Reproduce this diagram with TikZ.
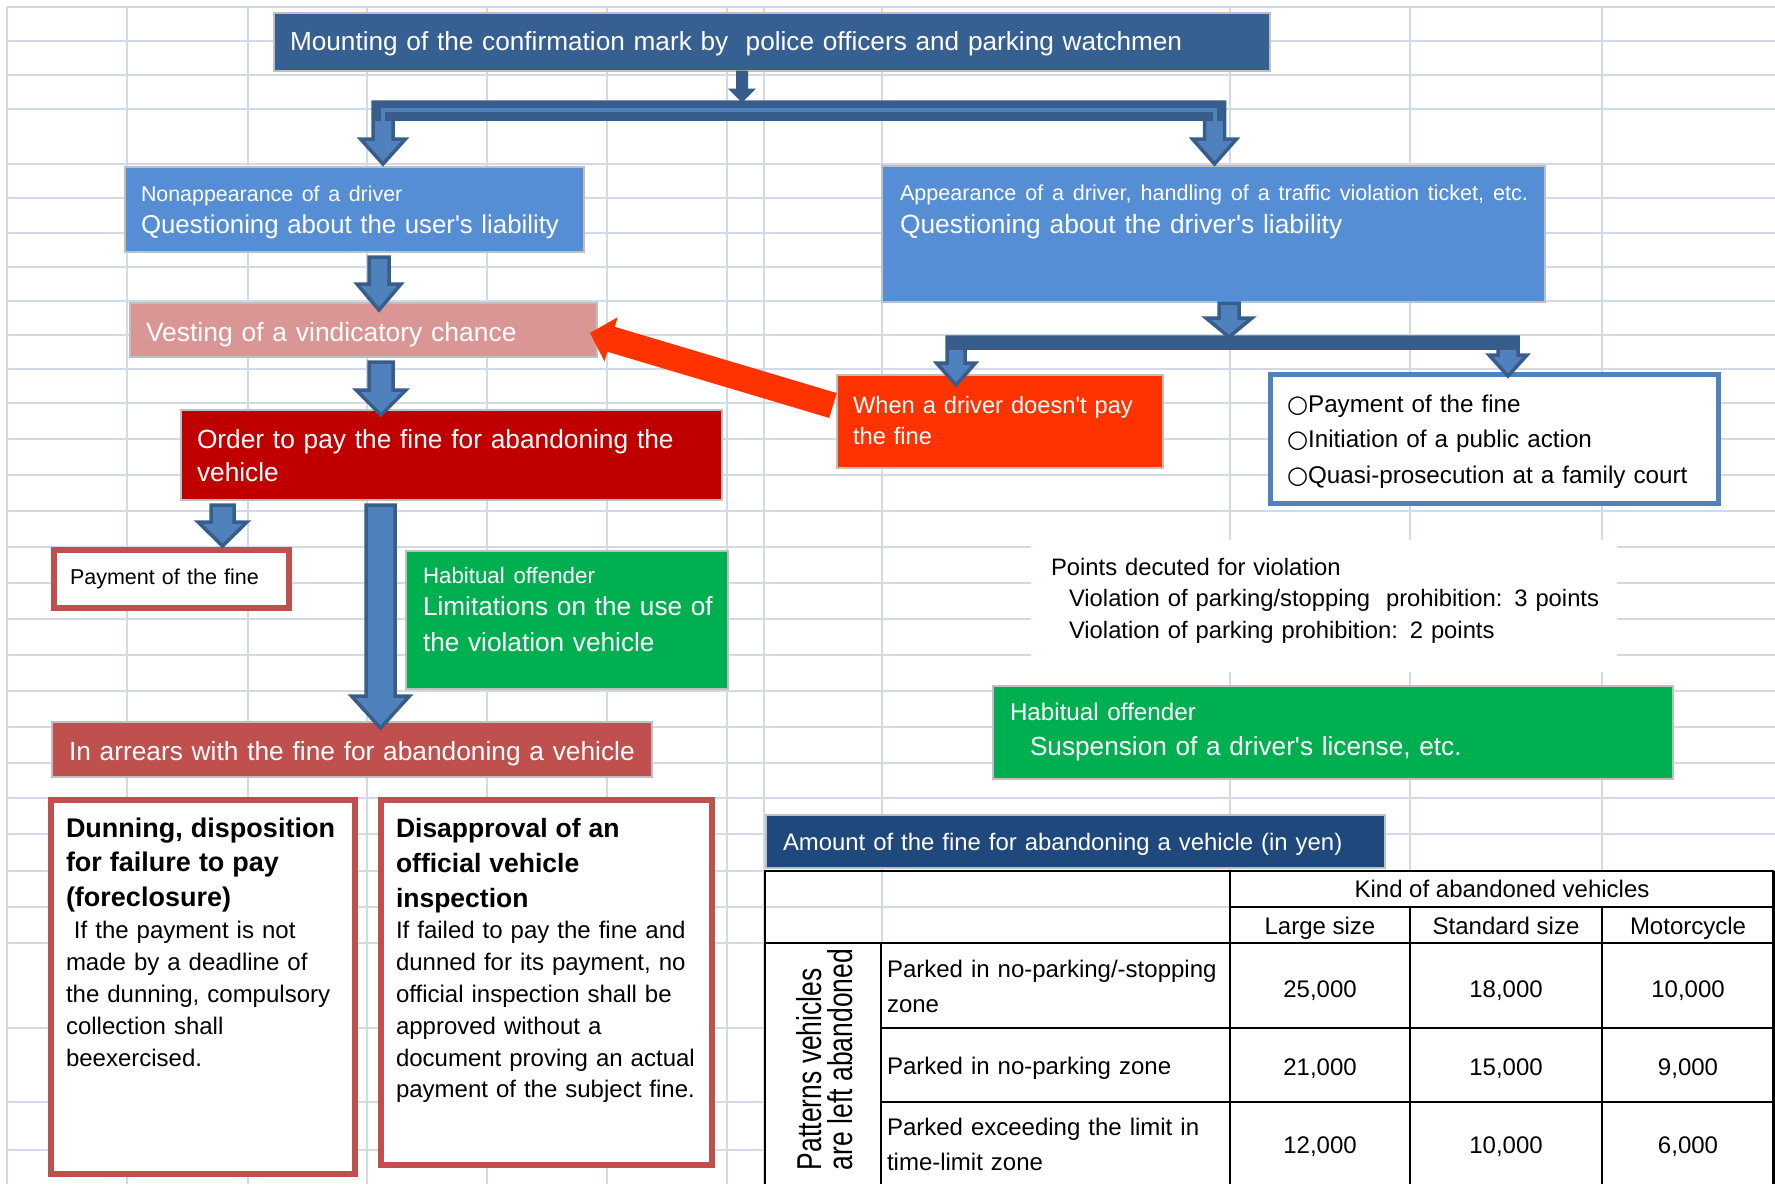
\documentclass[tikz,border=0pt]{standalone}
\usepackage{fontspec}
\setmainfont{Liberation Sans}
\newfontfamily\symfont{DejaVu Sans}
\usetikzlibrary{arrows.meta}
\usetikzlibrary{positioning}
\usetikzlibrary{calc}

\definecolor{gridline}{RGB}{210,218,232}
\definecolor{titleblue}{RGB}{55,96,146}
\definecolor{boxblue}{RGB}{85,142,213}
\definecolor{vestpink}{RGB}{217,150,148}
\definecolor{orderred}{RGB}{192,0,0}
\definecolor{alertred}{RGB}{255,51,0}
\definecolor{offgreen}{RGB}{0,176,80}
\definecolor{brickred}{RGB}{192,80,77}
\definecolor{navy}{RGB}{31,73,125}
\definecolor{arrowfill}{RGB}{79,129,189}
\definecolor{arrowedge}{RGB}{56,93,138}
\definecolor{edgegray}{RGB}{191,191,191}

\newcommand{\setfs}[2]{\fontsize{#1}{#2}\selectfont}
\newcommand{\apos}{\textquotesingle}
\newcommand{\blockdown}[6]{%
  \path[blockarrow] let \p1=(#1.south), \p2=([#3]#2.north) in
    (\x2-#4,\y1-5pt) -- (\x2+#4,\y1-5pt) -- (\x2+#4,\y2+#6) -- (\x2+#5,\y2+#6)
    -- (\x2,\y2) -- (\x2-#5,\y2+#6) -- (\x2-#4,\y2+#6) -- cycle;}

\begin{document}
\begin{tikzpicture}[x=1pt,y=-1pt]
\tikzset{
  gridl/.style={draw=gridline, line width=2pt},
  panel/.style={anchor=north west, inner ysep=0pt, outer sep=0pt, align=left, draw=edgegray, line width=2.5pt, text=white,
    execute at begin node={\rightskip=-100pt plus 1fil}},
  boxdims/.style n args={4}{text width=#1, inner xsep=#2, text height=#3, text depth=#4},
  redframe/.style={panel, fill=white, text=black, draw=brickred, line width=6pt},
  blockarrow/.style={fill=arrowfill, draw=arrowedge, line width=3.5pt},
  blockdark/.style={fill=arrowedge, draw=arrowedge, line width=1pt},
  tabl/.style={draw=black, line width=2.5pt},
  tabtext/.style={inner sep=0pt, outer sep=0pt, font=\setfs{24}{35}}
}
\useasboundingbox (0,0) rectangle (1775,1184);

\foreach \gx in {7,127,248,367,487,607,727,764,882,1230,1410,1602}
  \draw[gridl] (\gx,7) -- (\gx,1184);
\foreach \gy in {7,41,75,109,164,198,233,267,301,335,369,403,439,475,511,547,583,619,655,691,727,763,798,834,871,907,943,1028,1102,1150}
  \draw[gridl] (7,\gy) -- (1775,\gy);

\node[panel, fill=titleblue, boxdims={964pt}{16pt}{37pt}{21pt}, font=\setfs{26.2}{32}] (mount) at (274,13)
  {Mounting of the confirmation mark by\ \ police officers and parking watchmen};
\node[panel, fill=boxblue, boxdims={427pt}{16pt}{34pt}{51pt}, font=\setfs{25.8}{32}] (user) at (125,167)
  {{\setfs{21.4}{32}Nonappearance of a driver}\\Questioning about the user\apos s liability};
\node[panel, fill=boxblue, boxdims={627pt}{18pt}{34pt}{102pt}, font=\setfs{26.4}{33}] (driver) at (882,166)
  {{\setfs{21.6}{33}Appearance of a driver, handling of a traffic violation ticket, etc.}\\Questioning about the driver\apos s liability};
\node[panel, fill=vestpink, boxdims={435pt}{16pt}{38pt}{16pt}, font=\setfs{26.45}{32}] (vesting) at (130,303)
  {Vesting of a vindicatory chance};
\node[panel, fill=orderred, boxdims={509pt}{16pt}{38pt}{52pt}, font=\setfs{26.3}{33}] (order) at (181,410)
  {Order to pay the fine for abandoning the\\vehicle};
\node[redframe, boxdims={203pt}{16pt}{34pt}{24pt}, font=\setfs{21.5}{32}] (payment) at (54,550)
  {Payment of the fine};
\node[panel, fill=offgreen, boxdims={288pt}{17pt}{32pt}{106pt}, font=\setfs{26.2}{32}] (limit) at (406,551)
  {{\setfs{22.3}{32}Habitual offender}\\Limitations on the use of\\[4pt]the violation vehicle};
\node[panel, fill=brickred, boxdims={566pt}{17pt}{38pt}{17pt}, font=\setfs{26.3}{32}] (arrears) at (52,722)
  {In arrears with the fine for abandoning a vehicle};
\node[redframe, boxdims={274pt}{15pt}{37pt}{337pt}, font=\setfs{24}{32}] (dunning) at (51,800)
  {{\bfseries\setfs{27}{34.5}Dunning, disposition\\for failure to pay\\(foreclosure)\par}\ If the payment is not\\made by a deadline of\\the dunning, compulsory\\collection shall\\beexercised.};
\node[redframe, boxdims={301pt}{15pt}{37pt}{328pt}, font=\setfs{24}{31.8}] (disapproval) at (381,800)
  {{\bfseries\setfs{26.5}{35}Disapproval of an\\official vehicle\\inspection\par}If failed to pay the fine and\\dunned for its payment, no\\official inspection shall be\\approved without a\\document proving an actual\\payment of the subject fine.};
\node[panel, fill=alertred, boxdims={294pt}{16pt}{38pt}{55pt}, font=\setfs{23.7}{31}] (when) at (837,375)
  {When a driver doesn\apos t pay\\the fine};
\node[redframe, draw=arrowfill, line width=5pt, boxdims={415pt}{16.5pt}{37.5pt}{91.5pt}, font=\setfs{24.2}{35.5}] (list) at (1270.5,374.5)
  {{\symfont ○}Payment of the fine\\{\symfont ○}Initiation of a public action\\{\symfont ○}Quasi-prosecution at a family court};
\node[panel, fill=white, draw=none, text=black, boxdims={546pt}{20pt}{35pt}{97pt}, font=\setfs{23.8}{31.5}] (points) at (1031,540)
  {Points decuted for violation\\\hspace*{18pt}Violation of parking/stopping\ \ prohibition: 3 points\\\hspace*{18pt}Violation of parking prohibition: 2 points};
\node[panel, fill=offgreen, boxdims={646pt}{17pt}{34pt}{59pt}, font=\setfs{26.2}{35}] (suspend) at (993,686)
  {{\setfs{24.2}{35}Habitual offender}\\\hspace*{20pt}Suspension of a driver\apos s license, etc.};
\node[panel, fill=navy, boxdims={585pt}{17pt}{35pt}{18pt}, font=\setfs{23.9}{32}] (finetitle) at (766,815)
  {Amount of the fine for abandoning a vehicle (in yen)};

\fill[white] (1230,871) rectangle (1775,943);
\fill[white] (764,943) rectangle (1775,1184);
\draw[tabl] (764,871) -- (1773.5,871) (1230,907) -- (1773.5,907) (764,943) -- (1773.5,943)
  (881,1028) -- (1773.5,1028) (881,1102) -- (1773.5,1102);
\draw[tabl] (765,871) -- (765,1184) (881,943) -- (881,1184) (1230,871) -- (1230,1184)
  (1410,907) -- (1410,1184) (1602,907) -- (1602,1184) (1773.5,871) -- (1773.5,1184);

\node[tabtext, anchor=base] (kind) at (1502,897) {Kind of abandoned vehicles};
\node[tabtext, anchor=base] (large) at (1320,934) {Large size};
\node[tabtext, anchor=base] (standard) at (1506,934) {Standard size};
\node[tabtext, anchor=base] (moto) at (1688,934) {Motorcycle};
\node[tabtext, anchor=base west, text width=340pt, align=left] (zone1) at (887,977) {Parked in no-parking/-stopping\\zone};
\node[tabtext, anchor=base west, text width=340pt, align=left] (zone2) at (887,1074) {Parked in no-parking zone};
\node[tabtext, anchor=base west, text width=340pt, align=left] (zone3) at (887,1135) {Parked exceeding the limit in\\time-limit zone};
\node[tabtext, anchor=base] (fee11) at (1320,997) {25,000};
\node[tabtext, anchor=base] (fee12) at (1506,997) {18,000};
\node[tabtext, anchor=base] (fee13) at (1688,997) {10,000};
\node[tabtext, anchor=base] (fee21) at (1320,1075) {21,000};
\node[tabtext, anchor=base] (fee22) at (1506,1075) {15,000};
\node[tabtext, anchor=base] (fee23) at (1688,1075) {9,000};
\node[tabtext, anchor=base] (fee31) at (1320,1153) {12,000};
\node[tabtext, anchor=base] (fee32) at (1506,1153) {10,000};
\node[tabtext, anchor=base] (fee33) at (1688,1153) {6,000};
\node[rotate=90, anchor=base west, inner sep=0pt, outer sep=0pt] (pattern) at (821,1170)
  {\scalebox{1}[1.3]{\parbox[t]{240pt}{\setfs{26.5}{24.6}Patterns vehicles\\are left abandoned}}};

\path[blockdark] let \p1=([xshift=-30pt]mount.south) in
  (\x1-5.5pt,\y1) -- (\x1+5.5pt,\y1) -- (\x1+5.5pt,\y1-18pt) -- (\x1+13pt,\y1-18pt)
  -- (\x1,\y1-31pt) -- (\x1-13pt,\y1-18pt) -- (\x1-5.5pt,\y1-18pt) -- cycle;
\path[blockarrow] let \p1=(mount.south), \p2=([xshift=28.5pt,yshift=3pt]user.north), \p3=([xshift=1pt,yshift=2pt]driver.north) in
  (\x2-10pt,\y1-31pt) -- (\x3+10pt,\y1-31pt) -- (\x3+10pt,\y3+25pt) -- (\x3+22pt,\y3+25pt) -- (\x3,\y3)
  -- (\x3-22pt,\y3+25pt) -- (\x3-10pt,\y3+25pt) -- (\x3-10pt,\y1-48pt) -- (\x2+10pt,\y1-48pt)
  -- (\x2+10pt,\y2+25pt) -- (\x2+22.5pt,\y2+25pt) -- (\x2,\y2) -- (\x2-22.5pt,\y2+25pt) -- (\x2-10pt,\y2+25pt) -- cycle;
\path[fill=arrowedge] let \p1=(mount.south), \p2=([xshift=28.5pt]user.north), \p3=([xshift=1pt]driver.north) in
  (\x2-11.5pt,\y1-29.5pt) rectangle (\x3+11.5pt,\y1-49.5pt);
\draw[arrowfill, line width=4pt] let \p1=(mount.south), \p2=([xshift=28.5pt,yshift=3pt]user.north), \p3=([xshift=1pt,yshift=2pt]driver.north) in
  (\x2,\y2+27pt) -- (\x2,\y1-39pt) -- (\x3,\y1-39pt) -- (\x3,\y3+27pt);
\blockdown{user}{vesting}{xshift=15.5pt,yshift=-7pt}{10pt}{22pt}{26pt}
\blockdown{vesting}{order}{xshift=-70.5pt,yshift=-5pt}{12pt}{25pt}{25pt}
\blockdown{order}{payment}{xshift=51pt,yshift=4pt}{11.5pt}{24.5pt}{24pt}
\blockdown{order}{arrears}{xshift=28.5pt,yshift=-6pt}{14.5pt}{29pt}{32pt}
\path[blockarrow] let \p1=([xshift=15.5pt]driver.south) in
  (\x1-10pt,\y1-1pt) -- (\x1+10pt,\y1-1pt) -- (\x1+10pt,\y1-16pt) -- (\x1+23pt,\y1-16pt)
  -- (\x1,\y1-35pt) -- (\x1-23pt,\y1-16pt) -- (\x1-10pt,\y1-16pt) -- cycle;
\path[blockarrow] let \p1=(driver.south), \p2=([xshift=-44pt,yshift=-10pt]when.north), \p3=([xshift=13.5pt,yshift=-1.5pt]list.north) in
  (\x2-9pt,\y1-35pt) -- (\x3+10pt,\y1-35pt) -- (\x3+10pt,\y3+21pt) -- (\x3+19pt,\y3+21pt) -- (\x3,\y3)
  -- (\x3-19pt,\y3+21pt) -- (\x3-10pt,\y3+21pt) -- (\x3-10pt,\y1-46pt) -- (\x2+9pt,\y1-46pt)
  -- (\x2+9pt,\y2+22pt) -- (\x2+19.5pt,\y2+22pt) -- (\x2,\y2) -- (\x2-19.5pt,\y2+22pt) -- (\x2-9pt,\y2+22pt) -- cycle;
\path[fill=arrowedge] let \p1=(driver.south), \p2=([xshift=-44pt]when.north), \p3=([xshift=13.5pt]list.north) in
  (\x2-10.5pt,\y1-33.5pt) rectangle (\x3+11.5pt,\y1-47.5pt);

\coordinate (alertTail) at ([xshift=-4pt,yshift=16pt]when.west);
\coordinate (alertTip) at ([xshift=-7pt,yshift=-3pt]vesting.east);
\coordinate (alertBase) at ($(alertTip)!22pt!(alertTail)$);
\fill[alertred] ($(alertTail)!13pt!-90:(alertTip)$) -- ($(alertBase)!13pt!90:(alertTail)$)
  -- ($(alertBase)!23pt!90:(alertTail)$) -- (alertTip) -- ($(alertBase)!23pt!-90:(alertTail)$)
  -- ($(alertBase)!13pt!-90:(alertTail)$) -- ($(alertTail)!13pt!90:(alertTip)$) -- cycle;
\end{tikzpicture}
\end{document}
